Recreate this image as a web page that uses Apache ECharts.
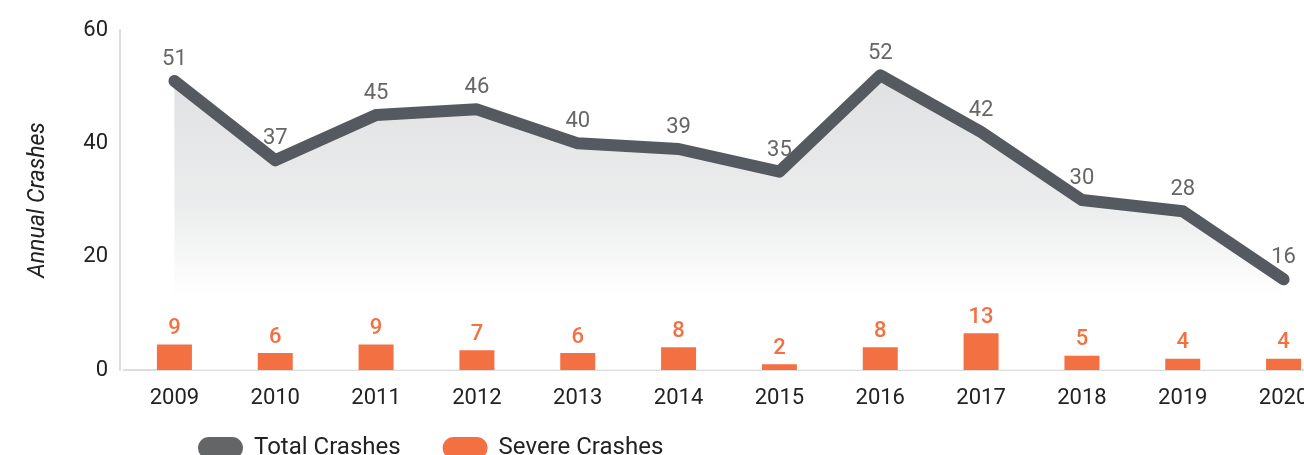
<!DOCTYPE html>
<html>
<head>
<meta charset="utf-8">
<script src="https://cdn.jsdelivr.net/npm/echarts@6/dist/echarts.min.js"></script>
<style>
  html, body { margin: 0; padding: 0; background: #fff; }
  #main { width: 1304px; height: 455px; }
</style>
</head>
<body>
<div id="main"></div>
<script>
var years = ['2009', '2010', '2011', '2012', '2013', '2014', '2015', '2016', '2017', '2018', '2019', '2020'];
var totalCrashes = [51, 37, 45, 46, 40, 39, 35, 52, 42, 30, 28, 16];
var severeCrashes = [9, 6, 9, 7, 6, 8, 2, 8, 13, 5, 4, 4];
var yTicks = [0, 20, 40, 60];

var myChart = echarts.init(document.getElementById('main'));

var font = 'Roboto, "Noto Sans", sans-serif';
var pill = 'path://M11,0 H34 A11,11 0 0 1 34,22 H11 A11,11 0 0 1 11,0 Z';

var option = {
    animation: false,
    textStyle: { fontFamily: font },
    grid: { left: 124, top: 30, height: 340, width: 1210, outerBoundsMode: 'none' },
    legend: {
        left: 193,
        top: 431,
        itemWidth: 45,
        itemHeight: 22,
        itemGap: 42,
        textStyle: { fontSize: 24, color: '#222', fontFamily: font, padding: [0, 0, 0, 6] },
        data: [
            { name: 'Total Crashes', icon: pill },
            { name: 'Severe Crashes', icon: pill }
        ]
    },
    xAxis: {
        type: 'category',
        data: years,
        axisLine: { lineStyle: { color: '#dcdcdc', width: 2 } },
        axisTick: { show: false },
        axisLabel: { fontSize: 22, color: '#222', margin: 17 }
    },
    yAxis: [{
        type: 'value',
        min: yTicks[0],
        max: yTicks[yTicks.length - 1],
        interval: 20,
        offset: 4,
        name: 'Annual Crashes',
        nameLocation: 'middle',
        nameGap: 70,
        nameTextStyle: { fontSize: 23, fontStyle: 'italic', color: '#222' },
        axisLine: { show: true, lineStyle: { color: '#dcdcdc', width: 2 } },
        axisTick: { show: false },
        splitLine: { show: false },
        axisLabel: { fontSize: 22, color: '#222', margin: 12 }
    }, {
        type: 'value',
        min: 0,
        max: 120,
        show: false
    }],
    series: [{
        name: 'Total Crashes',
        type: 'line',
        data: totalCrashes,
        symbol: 'circle',
        symbolSize: 1,
        itemStyle: { color: '#646567' },
        lineStyle: { color: '#555a61', width: 12, cap: 'round', join: 'round' },
        areaStyle: {
            color: new echarts.graphic.LinearGradient(0, 0, 0, 1, [
                { offset: 0, color: '#d2d3d5' },
                { offset: 0.45, color: '#e3e4e5' },
                { offset: 0.76, color: '#ffffff' },
                { offset: 1, color: '#ffffff' }
            ])
        },
        label: {
            show: true,
            position: 'top',
            distance: 10,
            fontSize: 22,
            color: '#666'
        },
        z: 2
    }, {
        name: 'Severe Crashes',
        type: 'bar',
        yAxisIndex: 1,
        data: severeCrashes,
        barWidth: 35,
        itemStyle: { color: '#f37042' },
        label: {
            show: true,
            position: 'top',
            distance: 5,
            fontSize: 22,
            fontWeight: 500,
            color: '#f37042'
        },
        z: 3
    }]
};

myChart.setOption(option);
</script>
</body>
</html>
